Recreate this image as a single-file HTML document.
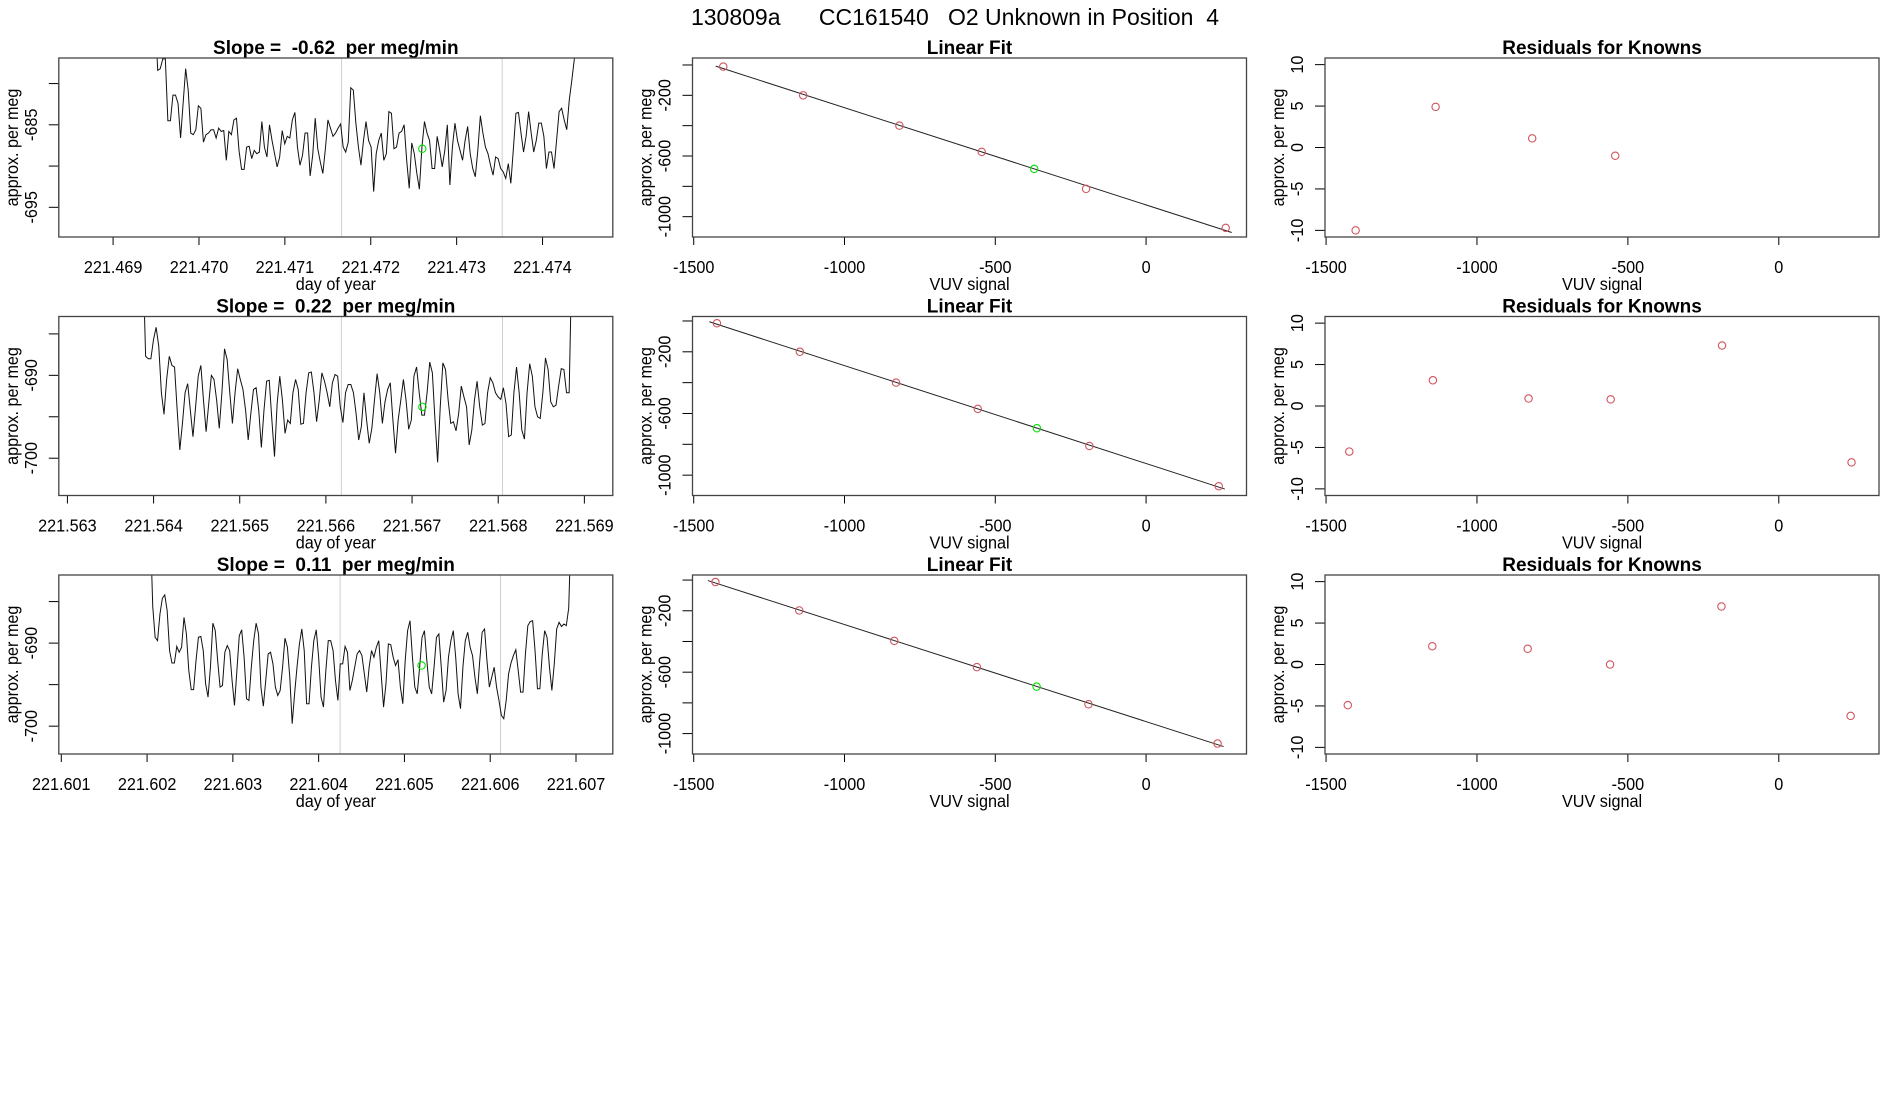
<!DOCTYPE html>
<html><head><meta charset="utf-8"><title>130809a CC161540 O2 Unknown in Position 4</title>
<style>
html,body{margin:0;padding:0;background:#fff;}
svg{display:block;font-family:"Liberation Sans",Arial,sans-serif;}
text{white-space:pre;}
</style></head>
<body>
<svg id="fig" width="1900" height="1100" viewBox="0 0 1900 1100" xmlns="http://www.w3.org/2000/svg" xml:space="preserve">
<text transform="translate(955,25) scale(1.0,1)" text-anchor="middle" font-size="23" fill="#000">130809a      CC161540   O2 Unknown in Position  4</text>
</svg>
<script>
// ---------- time-series data (day of year vs approx. per meg) ----------
const series1Start = 221.46949, series1End = 221.47440;
const series1Values = [-672,-678.4,-678.2,-677.0,-677.0,-684.5,-684.5,-681.4,-681.4,-682.4,-686.6,-682.4,-678.2,-680.8,-686.0,-686.2,-685.6,-682.7,-683.0,-687.1,-686.2,-686.0,-685.6,-685.6,-686.6,-685.4,-685.8,-685.7,-689.3,-685.8,-686.2,-684.4,-684.2,-688.1,-690.4,-690.4,-687.7,-687.6,-689.1,-688.1,-688.5,-688.3,-684.6,-687.7,-688.9,-685.0,-686.9,-688.5,-690.1,-688.9,-685.7,-687.3,-686.4,-686.6,-684.4,-683.5,-687.7,-689.9,-688.7,-686.0,-686.0,-691.2,-688.7,-684.2,-687.9,-689.5,-690.9,-687.9,-684.4,-685.4,-686.4,-686.0,-685.4,-684.9,-687.7,-688.3,-687.1,-680.5,-680.8,-684.8,-687.7,-689.9,-686.9,-684.6,-686.9,-687.7,-693.1,-688.5,-686.9,-686.0,-689.3,-688.5,-683.4,-683.6,-687.9,-687.7,-686.0,-685.8,-685.0,-689.3,-692.7,-687.2,-688.5,-690.9,-692.8,-687.7,-684.6,-686.0,-686.9,-690.3,-690.3,-686.4,-688.1,-690.1,-688.1,-685.0,-692.3,-687.7,-684.8,-686.9,-688.1,-689.3,-686.9,-685.2,-688.5,-690.3,-691.3,-688.1,-683.9,-686.0,-687.7,-688.5,-689.9,-691.1,-688.9,-689.1,-690.3,-690.7,-691.5,-689.7,-692.1,-687.9,-683.6,-683.5,-686.0,-688.3,-686.4,-683.4,-686.0,-688.3,-686.9,-684.8,-684.8,-686.4,-690.3,-688.3,-688.3,-690.3,-686.9,-683.4,-683.0,-684.4,-685.6,-682.0,-679.6,-677.0,-670];
const series1Markers = [221.47166, 221.47353];
const series1Unknown = [221.4726, -687.9];

const series2Start = 221.563877, series2End = 221.568854;
const series2Values = [-676,-687.7,-688.0,-688.0,-685.7,-684.2,-686.5,-692.1,-694.7,-690.5,-687.7,-688.8,-689.0,-694.2,-699.0,-695.8,-692.1,-691.0,-694.2,-697.4,-693.8,-690.1,-688.8,-693.0,-696.8,-693.4,-690.0,-690.5,-693.0,-696.4,-692.1,-686.8,-688.1,-692.1,-695.8,-692.1,-689.2,-690.5,-691.7,-694.2,-697.8,-694.6,-691.7,-691.5,-694.2,-698.7,-694.2,-690.7,-690.6,-695.4,-699.8,-693.4,-690.1,-693.0,-697.0,-695.4,-695.8,-692.1,-690.5,-691.7,-695.9,-695.8,-692.1,-689.7,-689.6,-692.1,-695.6,-693.0,-689.7,-690.7,-692.1,-693.8,-690.9,-689.9,-690.1,-693.8,-695.7,-692.1,-691.1,-691.1,-692.1,-694.6,-697.8,-696.2,-692.1,-695.4,-698.2,-696.4,-693.0,-689.8,-692.1,-695.8,-693.2,-691.7,-690.9,-695.4,-699.4,-695.4,-693.0,-690.5,-693.0,-696.5,-695.4,-690.1,-689.0,-692.1,-694.8,-694.8,-692.1,-688.4,-689.7,-695.4,-700.5,-693.8,-688.5,-689.3,-693.0,-695.8,-695.6,-696.7,-694.6,-691.3,-692.6,-693.8,-698.4,-696.6,-693.0,-690.7,-693.8,-696.0,-695.8,-692.1,-690.3,-690.9,-692.1,-692.6,-692.9,-691.5,-693.4,-697.4,-697.2,-692.1,-689.0,-692.1,-696.6,-697.7,-692.1,-688.6,-690.1,-693.8,-695.0,-695.2,-692.1,-687.9,-689.3,-693.2,-693.8,-693.6,-691.3,-689.2,-689.3,-692.1,-692.1,-676];
const series2Markers = [221.56618, 221.56805];
const series2Unknown = [221.56712, -693.8];

const series3Start = 221.602038, series3End = 221.606943;
const series3Values = [-676,-685.6,-689.3,-689.7,-686.5,-684.6,-684.2,-686.1,-690.9,-692.4,-692.4,-690.4,-691.1,-690.5,-686.9,-688.9,-693.3,-695.6,-695.6,-692.1,-689.3,-689.2,-690.9,-694.9,-696.5,-692.9,-687.6,-688.5,-692.1,-695.3,-695.1,-691.1,-690.3,-690.9,-694.5,-697.5,-693.3,-689.1,-688.4,-691.7,-696.7,-696.9,-692.9,-689.7,-687.6,-688.9,-695.3,-697.6,-694.5,-691.3,-691.1,-692.5,-695.3,-696.3,-695.7,-692.9,-689.4,-690.5,-694.1,-699.7,-696.1,-692.9,-690.1,-688.3,-690.9,-697.3,-697.3,-692.9,-689.7,-688.4,-691.7,-696.5,-697.7,-693.3,-689.7,-689.7,-690.9,-694.5,-696.9,-692.5,-692.5,-690.4,-691.1,-695.7,-694.5,-692.9,-691.3,-690.9,-691.5,-693.7,-695.9,-692.9,-690.9,-691.7,-690.5,-689.7,-693.7,-697.7,-694.9,-690.1,-690.2,-691.7,-692.7,-692.0,-695.3,-697.3,-692.1,-688.5,-687.3,-691.7,-695.3,-696.1,-692.9,-689.3,-688.5,-692.1,-695.3,-696.1,-692.9,-689.3,-688.9,-692.9,-697.1,-695.7,-691.7,-689.7,-688.5,-691.7,-696.1,-697.9,-692.9,-689.7,-688.7,-690.5,-691.5,-694.1,-696.1,-692.1,-688.7,-688.3,-692.1,-695.3,-694.1,-692.9,-695.3,-696.9,-698.7,-699.1,-696.9,-693.7,-692.4,-691.5,-690.8,-693.3,-695.9,-695.9,-691.3,-687.9,-687.4,-687.3,-690.9,-695.5,-695.5,-691.3,-688.5,-689.3,-692.9,-695.7,-692.5,-688.3,-687.5,-688.0,-687.7,-687.9,-685.8,-676];
const series3Markers = [221.60425, 221.60612];
const series3Unknown = [221.6052, -692.7];

const slopeLabels = ["-0.62", "0.22", "0.11"];

// ---------- linear-fit data ----------
const knownX1 = [-1402,-1137,-818,-545,-199,264];
const knownY1 = [-11,-200,-400,-573,-817,-1074];
const unknown1 = [-371,-685];
const knownX2 = [-1423,-1148,-829,-558,-188,241];
const knownY2 = [-15,-200,-400,-570,-811,-1072];
const unknown2 = [-362,-696];
const knownX3 = [-1428,-1150,-835,-561,-191,237];
const knownY3 = [-13,-198,-396,-567,-809,-1065];
const unknown3 = [-363,-694];

// ---------- residuals ----------
const resX1 = [-1402,-1137,-817,-542];
const resY1 = [-10.0,4.9,1.1,-1.0];
const resX2 = [-1423,-1146,-829,-557,-188,241];
const resY2 = [-5.5,3.1,0.9,0.8,7.3,-6.8];
const resX3 = [-1428,-1148,-832,-559,-190,238];
const resY3 = [-4.9,2.2,1.9,0,7.0,-6.2];

// ---------- tick definitions ----------
const tsXTicks = [
  [221.469,221.470,221.471,221.472,221.473,221.474],
  [221.563,221.564,221.565,221.566,221.567,221.568,221.569],
  [221.601,221.602,221.603,221.604,221.605,221.606,221.607]
];
const tsYTicks = [[-680,-685,-690,-695],[-685,-690,-695,-700],[-685,-690,-695,-700]];
const tsYLabels = [[-685,-695],[-690,-700],[-690,-700]];
const fitXTicks = [-1500,-1000,-500,0];
const fitYTicks = [0,-200,-400,-600,-800,-1000];
const fitYLabels = [-200,-600,-1000];
const resYTicks = [-10,-5,0,5,10];

// axis domains
const tsXDomains = [[221.468368,221.474818],[221.56290,221.56933],[221.600971,221.607429]];
const tsYDomains = [[-698.6,-676.9],[-704.5,-682.9],[-703.35,-681.8]];
const fitXDomain = [-1504,333];
const fitYDomains = [[-1134,46],[-1132,29],[-1133,33]];
const resXDomain = [-1503.5,332];
const resYDomain = [-10.8,10.8];

// ---------- layout ----------
const NS = "http://www.w3.org/2000/svg";
const svg = document.getElementById('fig');
const ROW_TOP = [58, 316.5, 575], BOX_H = 179;
const COL_LEFT = [58.8, 692.5, 1325], BOX_W = 554;
const RED = "#d0545f", GREEN = "#00e000";

function mk(tag, attrs, parent) {
  const el = document.createElementNS(NS, tag);
  for (const k in attrs) el.setAttribute(k, attrs[k]);
  (parent || svg).appendChild(el);
  return el;
}
function scale(d0, d1, r0, r1) { return v => r0 + (v - d0) / (d1 - d0) * (r1 - r0); }
function label(parent, x, y, str, size, rot, name, bold) {
  const sq = bold ? 1.0 : 0.9;
  const t = mk('text', {transform: `translate(${x},${y}) rotate(${rot||0}) scale(${sq},1)`, 'text-anchor': 'middle', 'font-size': size, fill: '#000'}, parent);
  if (bold) t.setAttribute('font-weight', 'bold');
  t.textContent = str;
  
  
  return t;
}

function panel(r, c, name, title, xDom, yDom, xTicks, xLabelFmt, yTicks, yLabels, xTitle) {
  const L = COL_LEFT[c], T = ROW_TOP[r], R = L + BOX_W, B = T + BOX_H;
  const g = mk('g', {});
  
  
  const sx = scale(xDom[0], xDom[1], L, R), sy = scale(yDom[0], yDom[1], B, T);
  const clipId = 'clip-' + r + '-' + c;
  const cp = mk('clipPath', {id: clipId}, g);
  mk('rect', {x: L, y: T, width: BOX_W, height: BOX_H}, cp);
  const plot = mk('g', {'clip-path': `url(#${clipId})`}, g);
  
  
  // x axis
  const xa = mk('g', {}, g);
  
  
  mk('line', {x1: sx(xTicks[0]), x2: sx(xTicks[xTicks.length-1]), y1: B, y2: B, stroke: '#000', 'stroke-width': 1}, xa);
  xTicks.forEach(v => {
    const tk = mk('line', {x1: sx(v), x2: sx(v), y1: B, y2: B + 8, stroke: '#000', 'stroke-width': 1}, xa);
    
    
    label(xa, sx(v), B + 36, xLabelFmt(v), 18, 0, 'x-tick-label');
  });
  label(xa, (L + R) / 2, B + 53, xTitle, 18, 0, 'x-axis-title');
  // y axis
  const ya = mk('g', {}, g);
  
  
  const yt = yTicks.slice().sort((a, b) => a - b);
  mk('line', {x1: L, x2: L, y1: sy(yt[0]), y2: sy(yt[yt.length-1]), stroke: '#000', 'stroke-width': 1}, ya);
  yTicks.forEach(v => {
    const tk = mk('line', {x1: L - 10, x2: L, y1: sy(v), y2: sy(v), stroke: '#000', 'stroke-width': 1}, ya);
    
    
  });
  yLabels.forEach(v => label(ya, L - 22, sy(v), String(v), 18, -90, 'y-tick-label'));
  label(ya, L - 41, (T + B) / 2, 'approx. per meg', 18, -90, 'y-axis-title');
  label(g, (L + R) / 2, T - 4, title, 19, 0, 'panel-title', true);
  const box = mk('rect', {x: L, y: T, width: BOX_W, height: BOX_H, fill: 'none', stroke: '#444', 'stroke-width': 1.3}, g);
  
  
  return {plot, sx, sy};
}

function circle(parent, x, y, color, name) {
  const c = mk('circle', {cx: x, cy: y, r: 3.7, fill: 'none', stroke: color, 'stroke-width': 1.1}, parent);
  
  
}

// ---------- column 1: time series ----------
const tsData = [
  [series1Start, series1End, series1Values, series1Markers, series1Unknown],
  [series2Start, series2End, series2Values, series2Markers, series2Unknown],
  [series3Start, series3End, series3Values, series3Markers, series3Unknown]
];
tsData.forEach((d, r) => {
  const [t0, t1, vals, marks, unk] = d;
  const p = panel(r, 0, 'time-series-panel-' + (r + 1), `Slope =  ${slopeLabels[r]}  per meg/min`,
    tsXDomains[r], tsYDomains[r], tsXTicks[r], v => v.toFixed(3), tsYTicks[r], tsYLabels[r], 'day of year');
  marks.forEach(m => {
    const ln = mk('line', {x1: p.sx(m), x2: p.sx(m), y1: ROW_TOP[r], y2: ROW_TOP[r] + BOX_H, stroke: '#cfcfcf', 'stroke-width': 1}, p.plot);
    
    
  });
  const step = (t1 - t0) / (vals.length - 1);
  const pts = vals.map((v, i) => p.sx(t0 + i * step).toFixed(2) + ',' + p.sy(v).toFixed(2)).join(' ');
  const pl = mk('polyline', {points: pts, fill: 'none', stroke: '#111', 'stroke-width': 1}, p.plot);
  
  
  circle(p.plot, p.sx(unk[0]), p.sy(unk[1]), GREEN, 'unknown-point');
});

// ---------- column 2: linear fit ----------
const fitData = [[knownX1, knownY1, unknown1], [knownX2, knownY2, unknown2], [knownX3, knownY3, unknown3]];
fitData.forEach((d, r) => {
  const [xs, ys, unk] = d;
  const p = panel(r, 1, 'linear-fit-panel-' + (r + 1), 'Linear Fit', fitXDomain, fitYDomains[r],
    fitXTicks, v => String(v), fitYTicks, fitYLabels, 'VUV signal');
  const n = xs.length, mx = xs.reduce((a, b) => a + b) / n, my = ys.reduce((a, b) => a + b) / n;
  let sxy = 0, sxx = 0;
  for (let i = 0; i < n; i++) { sxy += (xs[i] - mx) * (ys[i] - my); sxx += (xs[i] - mx) ** 2; }
  const slope = sxy / sxx, icpt = my - slope * mx;
  const xa = Math.min(...xs) - 25, xb = Math.max(...xs) + 20;
  const fl = mk('line', {x1: p.sx(xa), y1: p.sy(icpt + slope * xa), x2: p.sx(xb), y2: p.sy(icpt + slope * xb), stroke: '#222', 'stroke-width': 1}, p.plot);
  
  
  xs.forEach((x, i) => circle(p.plot, p.sx(x), p.sy(ys[i]), RED, 'known-point'));
  circle(p.plot, p.sx(unk[0]), p.sy(unk[1]), GREEN, 'unknown-point');
});

// ---------- column 3: residuals ----------
const resData = [[resX1, resY1], [resX2, resY2], [resX3, resY3]];
resData.forEach((d, r) => {
  const [xs, ys] = d;
  const p = panel(r, 2, 'residuals-panel-' + (r + 1), 'Residuals for Knowns', resXDomain, resYDomain,
    fitXTicks, v => String(v), resYTicks, resYTicks, 'VUV signal');
  xs.forEach((x, i) => circle(p.plot, p.sx(x), p.sy(ys[i]), RED, 'residual-point'));
});
</script>
</body></html>
